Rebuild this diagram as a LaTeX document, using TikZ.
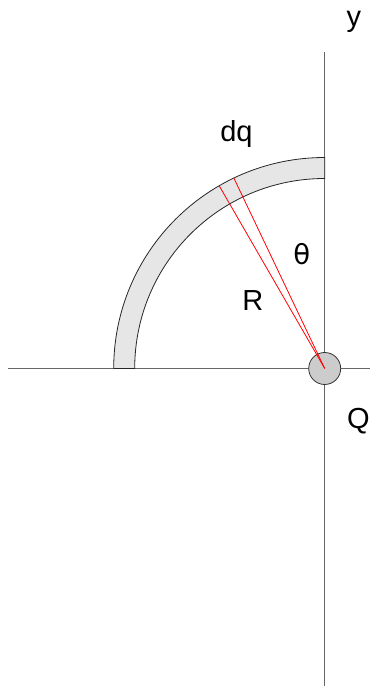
\documentclass[tikz,border=0pt]{standalone}
\usepackage{fontspec}
\setmainfont{Liberation Sans}
\newfontfamily\thetafont{DejaVu Sans}
\usetikzlibrary{calc}
\definecolor{axisgray}{HTML}{666666}
\definecolor{ringfill}{HTML}{E6E6E6}
\definecolor{chargefill}{HTML}{CCCCCC}
\begin{document}
\begin{tikzpicture}[x=1pt,y=1pt,
  axis/.style={draw=axisgray,line width=1pt},
  ring/.style={fill=ringfill,draw=black!85,line width=0.8pt},
  charge/.style={circle,fill=chargefill,draw=black!80,line width=0.8pt,minimum size=32pt,inner sep=0pt},
  redline/.style={draw=red,line width=0.8pt},
  lbl/.style={font=\fontsize{29}{33}\selectfont,inner sep=0pt,anchor=base}]
\useasboundingbox (0,0) rectangle (370,686);
\coordinate (O) at (324.7,317.5);
\coordinate (ytop) at (324.7,634.3);
\coordinate (ybot) at (324.7,0);
\coordinate (xl) at (8,317.5);
\coordinate (xr) at (370,317.5);
\draw[axis] (ybot) -- (ytop);
\draw[axis] (xl) -- (xr);
\path[ring] (O) ++(0,211) arc[start angle=90,end angle=180,radius=211]
  -- ++(21,0) arc[start angle=180,end angle=90,radius=190] -- cycle;
\node[charge] (Q) at (O) {};
\coordinate (p1) at ($(O)+(115.5:211)$);
\coordinate (p2) at ($(O)+(120:211)$);
\draw[redline] (O) -- (p1);
\draw[redline] (O) -- (p2);
\node[lbl] (ylab) at (353.8,659) {y};
\node[lbl] (dqlab) at (236.5,544) {dq};
\node[lbl,font=\thetafont\fontsize{27.5}{32}\selectfont] (thlab) at (301.7,421.7) {θ};
\node[lbl] (Rlab) at (252.8,375) {R};
\node[lbl] (Qlab) at (358.3,257.5) {Q};
\end{tikzpicture}
\end{document}
